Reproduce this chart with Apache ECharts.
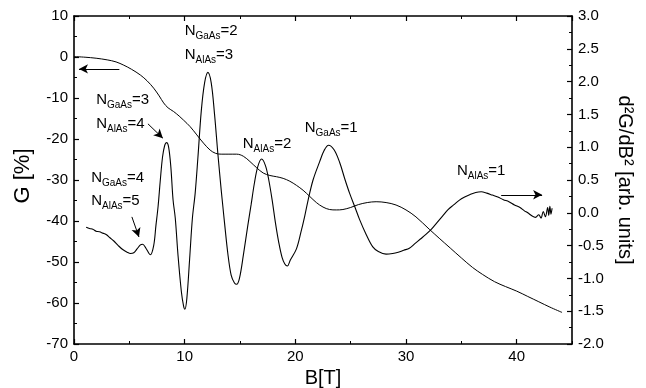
<!DOCTYPE html>
<html>
<head>
<meta charset="utf-8">
<script src="https://cdn.jsdelivr.net/npm/echarts@6/dist/echarts.min.js"></script>
<style>
html,body{margin:0;padding:0;background:#fff;}
#c{width:646px;height:388px;}
</style>
</head>
<body>
<div id="c"></div>
<script>
// ---- Data ----
// Magnetoconductance G [%] vs B [T]  (left axis)
const gB = [0,1,2,3,3.8,4.5,5.2,6.0,6.6,7.2,7.7,8.1,8.5,9.0,9.5,9.9,10.5,11.1,11.7,12.3,12.8,13.3,14.0,14.7,15.3,15.9,16.5,17.1,17.7,18.3,18.9,19.5,20.1,20.7,21.3,21.9,22.5,23.1,23.7,24.3,25.0,25.7,26.5,27.3,28.2,29.1,30.0,30.9,32.1,33.0,34.0,35.0,36.0,36.9,38.0,39.0,40.0,41.0,42.0,43.0,44.1];
const gVal = [0.1,-0.05,-0.3,-0.7,-1.2,-2.0,-3.0,-4.4,-5.8,-7.6,-9.5,-11.2,-12.4,-13.3,-14.4,-15.4,-17.0,-19.0,-21.0,-22.7,-23.5,-23.7,-23.7,-23.7,-24.2,-25.5,-27.0,-28.3,-28.9,-29.2,-29.6,-30.3,-31.3,-32.5,-34.0,-35.5,-36.6,-37.2,-37.3,-37.2,-36.7,-36.0,-35.5,-35.3,-35.5,-36.1,-37.3,-39.0,-42.0,-44.2,-46.6,-49.0,-51.3,-53.0,-54.8,-56.0,-57.1,-58.4,-59.7,-61.0,-62.3];

// Second derivative d2G/dB2 [arb. units] vs B [T]  (right axis)
const dB = [1.1,1.4,1.7,2.0,2.3,2.6,2.9,3.25,3.6,4.0,4.4,4.8,5.1,5.4,5.7,6.0,6.2,6.5,6.9,7.2,7.4,7.6,7.8,8.0,8.2,8.37,8.55,8.75,8.95,9.15,9.4,9.7,9.9,10.02,10.2,10.45,10.7,10.95,11.2,11.5,11.8,12.1,12.4,12.7,13.0,13.3,13.45,13.6,13.9,14.2,14.5,14.7,14.95,15.3,15.7,16.0,16.3,16.6,16.95,17.3,17.6,17.9,18.2,18.5,18.8,19.05,19.28,19.55,20.1,20.5,20.85,21.15,21.6,22.2,22.6,23.0,23.5,24.0,24.5,24.9,25.4,25.8,26.4,27.0,27.5,28.2,28.8,29.3,29.8,30.3,30.8,31.3,31.8,32.3,32.8,33.3,33.8,34.3,34.8,35.3,35.8,36.3,36.8,37.3,37.8,38.3,38.8,39.3,39.8,40.3,40.7,41.0,41.4,41.7,42.0,42.2,42.4,42.6,42.8,42.9,43.0,43.1,43.2];
const dVal = [-0.22,-0.24,-0.25,-0.28,-0.29,-0.31,-0.33,-0.38,-0.43,-0.50,-0.56,-0.60,-0.62,-0.61,-0.55,-0.49,-0.48,-0.54,-0.64,-0.50,-0.20,0.10,0.50,0.85,1.03,1.07,1.00,0.70,0.20,-0.08,-0.65,-1.20,-1.42,-1.47,-1.30,-0.70,-0.08,0.30,0.85,1.55,1.98,2.14,1.98,1.50,0.90,0.35,0.10,-0.15,-0.62,-0.95,-1.07,-1.09,-1.00,-0.65,-0.20,0.12,0.45,0.70,0.82,0.72,0.50,0.20,-0.15,-0.45,-0.68,-0.78,-0.81,-0.72,-0.55,-0.30,-0.05,0.19,0.50,0.78,0.95,1.03,0.96,0.77,0.50,0.30,0.08,-0.10,-0.33,-0.52,-0.59,-0.63,-0.62,-0.60,-0.57,-0.54,-0.47,-0.40,-0.33,-0.25,-0.15,-0.05,0.05,0.12,0.19,0.24,0.28,0.31,0.32,0.30,0.27,0.24,0.20,0.17,0.12,0.08,0.03,0.00,-0.05,-0.07,-0.03,-0.08,0.02,-0.06,0.08,-0.04,0.10,-0.02,0.07];

// Axis tick settings
const xTicks = {min: 0, max: 45, major: 10, minor: 5};
const yLeft = {min: -70, max: 10, interval: 10};
const yRight = {min: -2, max: 3, interval: 0.5};

// Annotations: [label main, subscript, suffix, B, G]
const notes = [
  ['N','GaAs','=2',10.0,6.4],
  ['N','AlAs','=3',10.0,0.5],
  ['N','GaAs','=3',2.0,-10.5],
  ['N','AlAs','=4',2.0,-16.3],
  ['N','GaAs','=4',1.55,-29.5],
  ['N','AlAs','=5',1.55,-35.1],
  ['N','AlAs','=2',15.25,-21.2],
  ['N','GaAs','=1',20.85,-17.3],
  ['N','AlAs','=1',34.6,-27.8]
];
// Arrows in (B, G) coordinates: from -> to
const arrows = [
  [[4.1,-2.9],[0.45,-2.9]],
  [[6.68,-16.3],[8.03,-19.8]],
  [[5.23,-39.0],[5.87,-43.9]],
  [[38.6,-33.6],[42.3,-33.6]]
];

const FONT = 'Liberation Sans, Arial, sans-serif';
const chart = echarts.init(document.getElementById('c'), null, {renderer: 'canvas'});

const axisLineStyle = {show: true, onZero: false, lineStyle: {color: '#000', width: 1.6}};
const lbl = {color: '#000', fontFamily: FONT, fontSize: 15};
const nameStyle = {color: '#000', fontFamily: FONT, fontSize: 20};

const option = {
  backgroundColor: '#fff',
  animation: false,
  grid: {left: 74, right: 74, top: 16, bottom: 44, containLabel: false, outerBoundsMode: 'none'},
  xAxis: [
    {type: 'value', position: 'bottom', min: xTicks.min, max: xTicks.max, interval: xTicks.major,
     name: 'B[T]', nameLocation: 'middle', nameGap: 21, nameTextStyle: nameStyle,
     axisLine: axisLineStyle, axisTick: {show: true, inside: true, length: 5, lineStyle: {color: '#000', width: 1.2}},
     axisLabel: Object.assign({margin: 5, showMaxLabel: false}, lbl), splitLine: {show: false}},
    {type: 'value', position: 'bottom', min: xTicks.min, max: xTicks.max, interval: xTicks.minor,
     axisLine: {show: false, onZero: false}, axisTick: {show: true, inside: true, length: 3, lineStyle: {color: '#000', width: 1}},
     axisLabel: {show: false}, splitLine: {show: false}},
    {type: 'value', position: 'top', min: xTicks.min, max: xTicks.max, interval: xTicks.major,
     axisLine: axisLineStyle, axisTick: {show: true, inside: true, length: 5, lineStyle: {color: '#000', width: 1.2}},
     axisLabel: {show: false}, splitLine: {show: false}},
    {type: 'value', position: 'top', min: xTicks.min, max: xTicks.max, interval: xTicks.minor,
     axisLine: {show: false, onZero: false}, axisTick: {show: true, inside: true, length: 3, lineStyle: {color: '#000', width: 1}},
     axisLabel: {show: false}, splitLine: {show: false}}
  ],
  yAxis: [
    {type: 'value', position: 'left', min: yLeft.min, max: yLeft.max, interval: yLeft.interval,
     axisLine: axisLineStyle,
     axisTick: {show: true, inside: true, length: 5, lineStyle: {color: '#000', width: 1.2}},
     minorTick: {show: true, splitNumber: 2, length: 3, lineStyle: {color: '#000', width: 1}},
     axisLabel: Object.assign({margin: 6}, lbl), splitLine: {show: false}},
    {type: 'value', position: 'right', min: yRight.min, max: yRight.max, interval: yRight.interval,
     name: 'd²G/dB² [arb. units]', nameLocation: 'middle', nameGap: 38, nameRotate: -90, nameTextStyle: nameStyle,
     axisLine: axisLineStyle,
     axisTick: {show: true, inside: true, length: 5, lineStyle: {color: '#000', width: 1.2}},
     minorTick: {show: true, splitNumber: 2, length: 3, lineStyle: {color: '#000', width: 1}},
     axisLabel: Object.assign({margin: 6, formatter: v => v.toFixed(1)}, lbl), splitLine: {show: false}}
  ],
  series: [
    {type: 'line', name: 'G', xAxisIndex: 0, yAxisIndex: 0, showSymbol: false, smooth: 0.35,
     lineStyle: {color: '#000', width: 1}, data: gB.map((b, i) => [b, gVal[i]]),
     markLine: {silent: true, symbol: ['none', 'arrow'], symbolSize: [7, 9], label: {show: false},
       lineStyle: {color: '#000', width: 1, type: 'solid'},
       data: arrows.map(a => [{coord: a[0]}, {coord: a[1]}])}},
    {type: 'line', name: 'd2G', xAxisIndex: 0, yAxisIndex: 1, showSymbol: false, smooth: 0.35,
     lineStyle: {color: '#000', width: 1.1}, data: dB.map((b, i) => [b, dVal[i]])}
  ]
};
chart.setOption(option);

function placeNotes() {
  const els = notes.map(n => {
    const p = chart.convertToPixel({xAxisIndex: 0, yAxisIndex: 0}, [n[3], n[4]]);
    return {
      type: 'text', x: p[0], y: p[1], silent: true,
      style: {
        text: '{m|' + n[0] + '}{s|' + n[1] + '}{m|' + n[2] + '}',
        textAlign: 'left', textVerticalAlign: 'middle',
        rich: {
          m: {fontFamily: FONT, fontSize: 15, lineHeight: 20, fill: '#000', color: '#000'},
          s: {fontFamily: FONT, fontSize: 10, lineHeight: 10, verticalAlign: 'bottom', fill: '#000', color: '#000'}
        }
      }
    };
  });
  // Left axis title (rotated), placed beside the G axis
  els.push({type: 'text', x: 23, y: 176, rotation: Math.PI / 2, silent: true,
    style: {text: 'G [%]', font: '22px ' + FONT, fill: '#000', textAlign: 'center', textVerticalAlign: 'middle'}});
  chart.setOption({graphic: els});
}
placeNotes();
</script>
</body>
</html>
